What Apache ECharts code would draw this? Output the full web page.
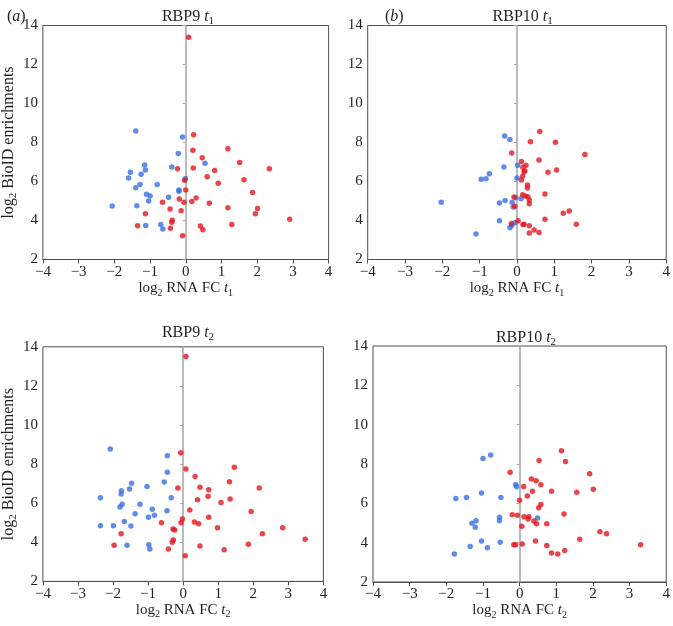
<!DOCTYPE html>
<html><head><meta charset="utf-8">
<script src="https://cdn.jsdelivr.net/npm/echarts@6/dist/echarts.min.js"></script>
<style>html,body{margin:0;padding:0;background:#fff}#c{width:673px;height:626px}</style>
</head><body><div id="c"></div>
<script>
// ---- tick values ----
const xTickValues = [-4, -3, -2, -1, 0, 1, 2, 3, 4];
const yTickValues = [2, 4, 6, 8, 10, 12, 14];

// ---- panel titles ----
const panelNames = ['RBP9', 'RBP10', 'RBP9', 'RBP10'];
const panelTimes = ['1', '1', '2', '2'];

// ---- data: [log2 RNA FC, log2 BioID enrichment] ----
const tlBlue = [[-1.40,8.59],[-0.09,8.28],[-0.21,7.43],[0.54,6.93],[-1.15,6.85],[-1.13,6.59],[-0.39,6.74],[-1.55,6.47],[-1.25,6.37],[-1.60,6.18],[-0.01,6.16],[-1.28,5.84],[-1.40,5.68],[-0.80,5.84],[-0.19,5.56],[-0.19,5.50],[-1.10,5.34],[-1.00,5.26],[-0.48,5.19],[-1.04,5.00],[-2.06,4.74],[-1.37,4.76],[-0.70,3.80],[-0.64,3.56],[-1.12,3.75]];
const tlRed = [[0.08,13.4],[0.22,8.40],[1.18,7.68],[0.20,7.60],[0.46,7.22],[1.51,6.97],[0.21,6.69],[-0.23,6.66],[0.81,6.57],[2.34,6.66],[0.60,6.25],[1.63,6.09],[-0.03,6.06],[0.91,5.91],[0.00,5.56],[1.87,5.44],[0.29,5.15],[-0.18,5.10],[-0.05,4.93],[0.17,4.97],[-0.65,4.93],[0.66,4.88],[-0.44,4.59],[-0.13,4.50],[1.18,4.66],[2.01,4.62],[1.95,4.35],[-1.13,4.35],[-0.38,4.01],[-0.39,3.91],[2.91,4.06],[-1.35,3.73],[-0.43,3.60],[0.41,3.72],[0.48,3.53],[1.29,3.80],[-0.09,3.22]];
const trBlue = [[-0.33,8.33],[-0.19,8.16],[-0.35,6.74],[0.02,6.83],[-0.74,6.40],[-0.83,6.14],[-0.96,6.12],[0.00,6.18],[-2.03,4.93],[-0.32,5.02],[-0.47,4.90],[-0.13,4.93],[-0.03,5.17],[0.11,5.12],[-0.10,4.69],[-0.47,3.99],[-0.05,3.89],[-0.14,3.75],[-0.19,3.63],[-1.10,3.31]];
const trRed = [[0.61,8.57],[0.36,8.04],[1.03,8.01],[-0.14,7.46],[1.82,7.38],[0.59,7.10],[0.12,7.02],[0.24,6.83],[0.16,6.73],[0.21,6.55],[0.19,6.49],[0.83,6.47],[1.06,6.59],[0.15,6.27],[0.12,6.08],[0.28,5.82],[0.28,5.67],[0.75,5.36],[0.15,5.32],[0.22,5.26],[0.29,5.22],[-0.08,5.21],[0.33,5.05],[0.33,4.86],[-0.06,4.73],[1.40,4.49],[1.24,4.37],[0.75,4.06],[0.03,3.99],[-0.15,3.84],[0.16,3.79],[0.19,3.81],[0.33,3.73],[1.59,3.81],[0.46,3.51],[0.33,3.36],[0.59,3.38]];
const blBlue = [[-2.08,8.77],[-0.45,8.43],[-0.45,7.58],[-0.54,7.08],[-1.47,7.02],[-1.03,6.85],[-1.53,6.73],[-1.76,6.64],[-1.77,6.47],[-2.36,6.28],[-0.34,6.28],[-1.74,5.94],[-1.80,5.81],[-1.23,5.94],[-0.88,5.69],[-0.46,5.62],[-1.37,5.46],[-0.82,5.38],[-0.99,5.28],[-1.68,5.07],[-2.36,4.85],[-1.99,4.85],[-1.49,4.84],[-1.60,3.85],[-0.98,3.88],[-0.95,3.66]];
const blRed = [[0.08,13.5],[-0.07,8.58],[1.46,7.84],[0.08,7.75],[0.34,7.37],[1.32,7.10],[-0.15,6.78],[0.48,6.81],[0.73,6.69],[2.17,6.78],[0.71,6.35],[0.41,6.18],[1.34,6.21],[1.08,6.03],[0.19,5.65],[1.94,5.57],[0.73,5.28],[-0.02,5.19],[-0.06,5.00],[0.32,5.04],[0.44,4.95],[-0.62,5.00],[-0.29,4.68],[-0.24,4.63],[0.98,4.75],[2.84,4.75],[-1.77,4.44],[2.26,4.44],[-0.28,4.12],[-0.31,4.00],[3.48,4.15],[-1.97,3.85],[0.48,3.81],[1.86,3.90],[-0.42,3.66],[1.17,3.62],[0.06,3.31]];
const brBlue = [[-1.00,8.28],[-0.79,8.46],[-0.11,6.95],[-0.08,6.84],[-1.04,6.52],[-1.74,6.25],[-1.45,6.30],[-0.51,6.30],[0.49,5.25],[-0.55,5.29],[-0.55,5.12],[-1.19,5.12],[-1.30,4.99],[-1.21,4.79],[-1.04,4.09],[-0.53,4.02],[-1.35,3.81],[-0.88,3.74],[-1.78,3.42]];
const brRed = [[1.14,8.68],[0.53,8.18],[1.25,8.13],[-0.26,7.58],[1.91,7.51],[0.32,7.24],[0.45,7.15],[0.58,6.95],[0.11,6.86],[0.35,6.62],[0.87,6.62],[1.56,6.56],[2.01,6.71],[0.21,6.37],[0.00,6.16],[0.58,5.94],[0.52,5.78],[1.21,5.46],[-0.20,5.42],[-0.06,5.39],[0.12,5.32],[0.25,5.32],[0.23,5.20],[0.39,5.10],[0.46,4.96],[0.74,4.96],[0.06,4.84],[2.19,4.55],[2.37,4.45],[1.64,4.17],[0.43,4.09],[-0.16,3.90],[-0.11,3.90],[0.07,3.93],[0.74,3.86],[3.30,3.90],[1.23,3.60],[0.87,3.47],[1.04,3.42]];

const panelData = [[tlBlue, tlRed], [trBlue, trRed], [blBlue, blRed], [brBlue, brRed]];

// ---- layout (pixels) ----
const grids = [
  {left: 37.4, top: 25.5, width: 291.2, height: 234},
  {left: 367.7, top: 25.5, width: 300, height: 234},
  {left: 42.6, top: 346.8, width: 280.8, height: 234.6},
  {left: 373, top: 346, width: 296, height: 236}
];
const FONT = 'Liberation Serif';
const INK = '#231f20';
const BLUE = '#3b6fe3';
const RED = '#e2161f';

const rich = {
  n: {fontFamily: FONT, fontSize: 15, color: INK, lineHeight: 20, fontWeight: 'normal'},
  i: {fontFamily: FONT, fontSize: 15, color: INK, fontStyle: 'italic', lineHeight: 20, fontWeight: 'normal'},
  s: {fontFamily: FONT, fontSize: 10, color: INK, lineHeight: 10, verticalAlign: 'bottom', fontWeight: 'normal'}
};
const richY = {
  n: {fontFamily: FONT, fontSize: 16, color: INK, lineHeight: 20, fontWeight: 'normal'},
  s: {fontFamily: FONT, fontSize: 11, color: INK, lineHeight: 10, verticalAlign: 'bottom', fontWeight: 'normal'}
};
const richT = {
  n: {fontFamily: FONT, fontSize: 16, color: INK, lineHeight: 20, fontWeight: 'normal'},
  i: {fontFamily: FONT, fontSize: 16, color: INK, fontStyle: 'italic', lineHeight: 20, fontWeight: 'normal'},
  s: {fontFamily: FONT, fontSize: 11, color: INK, lineHeight: 10, verticalAlign: 'bottom', fontWeight: 'normal'}
};
const fmtMinus = v => (v < 0 ? '\u2212' + Math.abs(v) : String(v));

const option = {
  animation: false,
  backgroundColor: '#fff',
  title: [],
  grid: [], xAxis: [], yAxis: [], series: []
};

option.title.push({text: '{n|(}{i|a}{n|)}', left: 2, top: 2, textStyle: {fontWeight: 'normal', rich: richT}});
option.title.push({text: '{n|(}{i|b}{n|)}', left: 380, top: 2, textStyle: {fontWeight: 'normal', rich: richT}});

const titleY = [2, 2, 318, 323];
grids.forEach((g, p) => {
  option.grid.push(Object.assign({show: true, borderColor: '#505050', borderWidth: 1, containLabel: false}, g));
  option.title.push({
    text: '{n|' + panelNames[p] + ' }{i|t}{s|' + panelTimes[p] + '}',
    left: g.left + g.width / 2, top: titleY[p], textAlign: 'center',
    textStyle: {fontWeight: 'normal', rich: richT}
  });
  option.xAxis.push({
    type: 'value', gridIndex: p,
    min: xTickValues[0], max: xTickValues[xTickValues.length - 1], interval: 1,
    position: 'bottom',
    name: '{n|log}{s|2}{n| RNA FC }{i|t}{s|' + panelTimes[p] + '}',
    nameLocation: 'middle', nameGap: 17,
    nameTextStyle: {rich: rich},
    axisLine: {show: true, onZero: false, lineStyle: {color: '#505050', width: 1}},
    axisTick: {show: true, length: 4, lineStyle: {color: '#505050'}},
    axisLabel: {fontFamily: FONT, fontSize: 15, color: INK, margin: 5, formatter: fmtMinus},
    splitLine: {show: false}
  });
  // label axis on the left edge
  option.yAxis.push({
    type: 'value', gridIndex: p,
    min: yTickValues[0], max: yTickValues[yTickValues.length - 1], interval: 2,
    position: 'left',
    name: p % 2 === 0 ? '{n|log}{s|2}{n| BioID enrichments}' : '',
    nameLocation: 'middle', nameRotate: 90, nameGap: 15,
    nameTextStyle: {rich: richY},
    axisLine: {show: false, onZero: false},
    axisTick: {show: false},
    axisLabel: {fontFamily: FONT, fontSize: 15, color: INK, margin: 5},
    splitLine: {show: false}
  });
  // vertical axis drawn at x = 0
  option.yAxis.push({
    type: 'value', gridIndex: p,
    min: yTickValues[0], max: yTickValues[yTickValues.length - 1], interval: 2,
    position: 'left',
    axisLine: {show: true, onZero: true, lineStyle: {color: '#a5a5a5', width: 1.5}},
    axisTick: {show: true, length: 3, lineStyle: {color: '#a5a5a5'}},
    axisLabel: {show: false},
    splitLine: {show: false}
  });
  const [blue, red] = panelData[p];
  option.series.push({type: 'scatter', xAxisIndex: p, yAxisIndex: p * 2, data: blue,
    symbol: 'circle', symbolSize: 5.5, itemStyle: {color: BLUE}, silent: true});
  option.series.push({type: 'scatter', xAxisIndex: p, yAxisIndex: p * 2, data: red,
    symbol: 'circle', symbolSize: 5.5, itemStyle: {color: RED}, silent: true});
});

const chart = echarts.init(document.getElementById('c'), null, {renderer: 'canvas'});
chart.setOption(option);
</script>
</body></html>
